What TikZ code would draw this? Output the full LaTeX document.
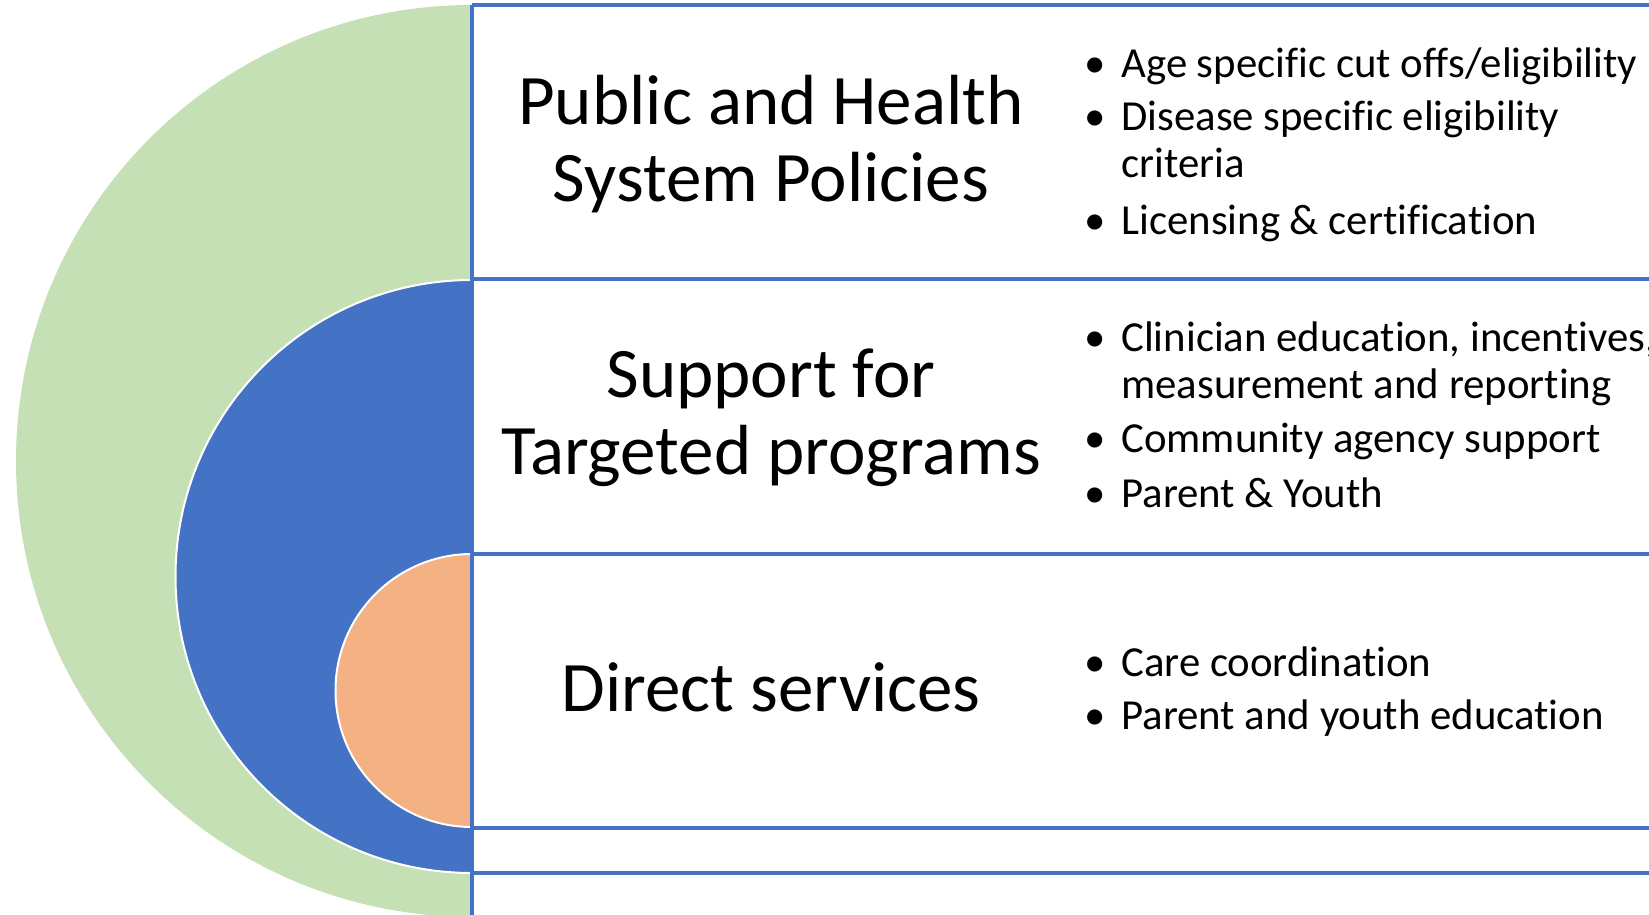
\documentclass[tikz,border=0pt]{standalone}
\usepackage{fontspec}
\setmainfont{Carlito}[Ligatures={TeX,NoCommon}]
\definecolor{ringgreen}{HTML}{C5E0B4}
\definecolor{ringblue}{HTML}{4472C4}
\definecolor{ringorange}{HTML}{F4B183}
\definecolor{gridblue}{HTML}{4472C4}
\newcommand{\dotitem}{\llap{\textbullet\hspace{8pt}}}

\begin{document}
\begin{tikzpicture}[x=0.5pt,y=0.5pt]
	\tikzstyle{every node}=[inner sep=0pt]
	\tikzstyle{tiertitle}=[font=\fontsize{35.5}{38.5}\selectfont, align=center, anchor=base]
	\tikzstyle{tieritem}=[font=\fontsize{21.4}{23.5}\selectfont, align=left, anchor=base west]
	\tikzstyle{gridline}=[draw=gridblue, line width=1.8pt]

	\useasboundingbox (0,0) rectangle (1649,915);
	\clip (0,0) rectangle (1649,915);

	% nested half discs
	\fill[ringgreen] (472,910) arc (90:270:456) -- cycle;
	\filldraw[fill=ringblue, draw=white, line width=1pt] (472,635) arc (90:270:296.5) -- cycle;
	\filldraw[fill=ringorange, draw=white, line width=1pt] (472,361) arc (90:270:136.5) -- cycle;

	% table lines
	\draw[gridline] (472,910) -- (472,0);
	\foreach \y in {910,636,361,87,42}
		\draw[gridline] (472,\y) -- (1649,\y);

	% (multi-line nodes sit on their last baseline)
	\node[tiertitle] (policy) at (771,713) {Public and Health\\System Policies};
	\node[tiertitle] (support) at (771,440) {Support for\\Targeted programs};
	\node[tiertitle] (direct) at (771,203) {Direct services};

	\node[tieritem] (age) at (1121,837) {\dotitem Age specific cut offs/eligibility};
	\node[tieritem] (disease) at (1121,737) {\dotitem Disease specific eligibility\\criteria};
	\node[tieritem] (license) at (1121,680) {\dotitem Licensing \& certification};

	\node[tieritem] (clinician) at (1121,516) {\dotitem Clinician education, incentives,\\measurement and reporting};
	\node[tieritem] (community) at (1121,462) {\dotitem Community agency support};
	\node[tieritem] (parent) at (1121,407) {\dotitem Parent \& Youth};

	\node[tieritem] (care) at (1121,238) {\dotitem Care coordination};
	\node[tieritem] (youth) at (1121,185) {\dotitem Parent and youth education};
\end{tikzpicture}
\end{document}
